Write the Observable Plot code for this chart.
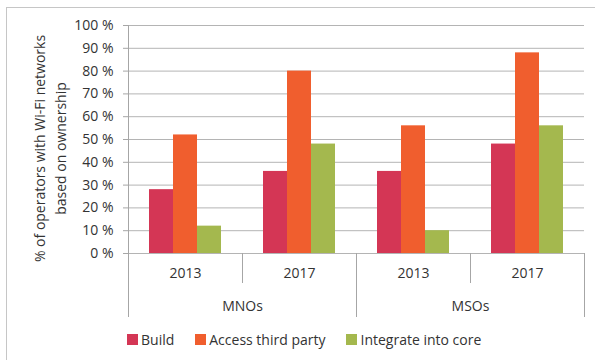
<!DOCTYPE html>
<html><head><meta charset="utf-8">
<script src="https://cdn.jsdelivr.net/npm/d3@7"></script>
<script src="https://cdn.jsdelivr.net/npm/@observablehq/plot@0.6"></script>
<style>
body{margin:0;background:#fff;}
#wrap{position:relative;width:595px;height:360px;overflow:hidden;font-family:"Open Sans",sans-serif;}
#border{position:absolute;left:6px;top:7px;width:700px;height:500px;border-top:1px solid #c6c6c6;border-left:1px solid #c6c6c6;}
#chart{position:absolute;left:0;top:0;}
#legend{position:absolute;left:127px;top:330px;display:flex;align-items:center;font-size:14px;color:#333;white-space:nowrap;}
.item{display:flex;align-items:center;margin-right:21px}
.sw{width:11px;height:11px;margin-right:3px}
</style></head><body>
<div id="wrap"><div id="border"></div><div id="chart"></div><div id="legend"></div></div>
<script>
const groups = ["MNOs", "MSOs"];
const years = ["2013", "2017"];
const series = ["Build", "Access third party", "Integrate into core"];
const build = [28, 36, 36, 48];
const access = [52, 80, 56, 88];
const integrate = [12, 48, 10, 56];
const colors = ["#d43655", "#f05e2e", "#a4b84e"];
const yTicks = [0, 10, 20, 30, 40, 50, 60, 70, 80, 90, 100];
const yTitle = ["% of operators with Wi-Fi networks", "based on ownership"];

const keys = groups.flatMap(g => years.map(y => g + "|" + y));
const seriesValues = [build, access, integrate];
const data = keys.flatMap((k, i) => series.map((s, j) => ({key: k, series: s, value: seriesValues[j][i]})));

const chart = Plot.plot({
  width: 595, height: 330,
  marginTop: 25, marginBottom: 77, marginLeft: 128, marginRight: 11,
  style: {fontFamily: '"Open Sans", sans-serif', fontSize: "14px", color: "#333", background: "transparent"},
  fx: {domain: keys, paddingInner: 0, paddingOuter: 0},
  x: {domain: series, paddingInner: 0, paddingOuter: 0.78, axis: null},
  y: {domain: [0, 100]},
  color: {domain: series, range: colors},
  marks: [
    Plot.gridY(yTicks, {stroke: "#b4b4b4", strokeOpacity: 1}),
    Plot.barY(data, {fx: "key", x: "series", y: "value", fill: "series"}),
    Plot.axisY(yTicks, {tickSize: 5, tickPadding: 10, tickFormat: d => d + " %", stroke: "#a6a6a6", fill: "#333", label: null, fontSize: 14}),
    Plot.axisFx({anchor: "bottom", tickSize: 0, tickPadding: 15, tickFormat: d => d.split("|")[1], label: null, fontSize: 14, fill: "#333"}),
    Plot.text(groups, {fx: g => g + "|" + years[0], text: d => d, frameAnchor: "bottom-right", textAnchor: "middle", dy: 57, fontSize: 14, fill: "#333"}),
    Plot.text([yTitle.join("\n")], {fx: () => keys[0], text: d => d, frameAnchor: "left", textAnchor: "middle", lineAnchor: "middle", rotate: -90, dx: -80, dy: 9, lineHeight: 1.55, fontSize: 14, fill: "#333"})
  ]
});
document.getElementById("chart").appendChild(chart);

// category separators from the fx and y scales
const fxScale = chart.scale("fx"), yScale = chart.scale("y");
const yBase = yScale.apply(0), yTop = yScale.apply(100);
const sepG = d3.select(chart).append("g").attr("stroke", "#a6a6a6").attr("stroke-width", 1);
const edges = keys.map((k, i) => ({x: fxScale.apply(k), group: i % years.length === 0, first: i === 0}));
edges.push({x: fxScale.apply(keys[keys.length - 1]) + fxScale.bandwidth, group: true, first: false});
edges.forEach(e => {
  const x = Math.round(e.x) + 0.5;
  sepG.append("line").attr("x1", x).attr("x2", x)
    .attr("y1", e.first ? yTop : yBase)
    .attr("y2", yBase + (e.group ? 64 : 30));
});

const legend = d3.select("#legend");
series.forEach((s, i) => {
  const it = legend.append("div").attr("class", "item");
  it.append("div").attr("class", "sw").style("background", colors[i]);
  it.append("span").text(s);
});
</script>
</body></html>
